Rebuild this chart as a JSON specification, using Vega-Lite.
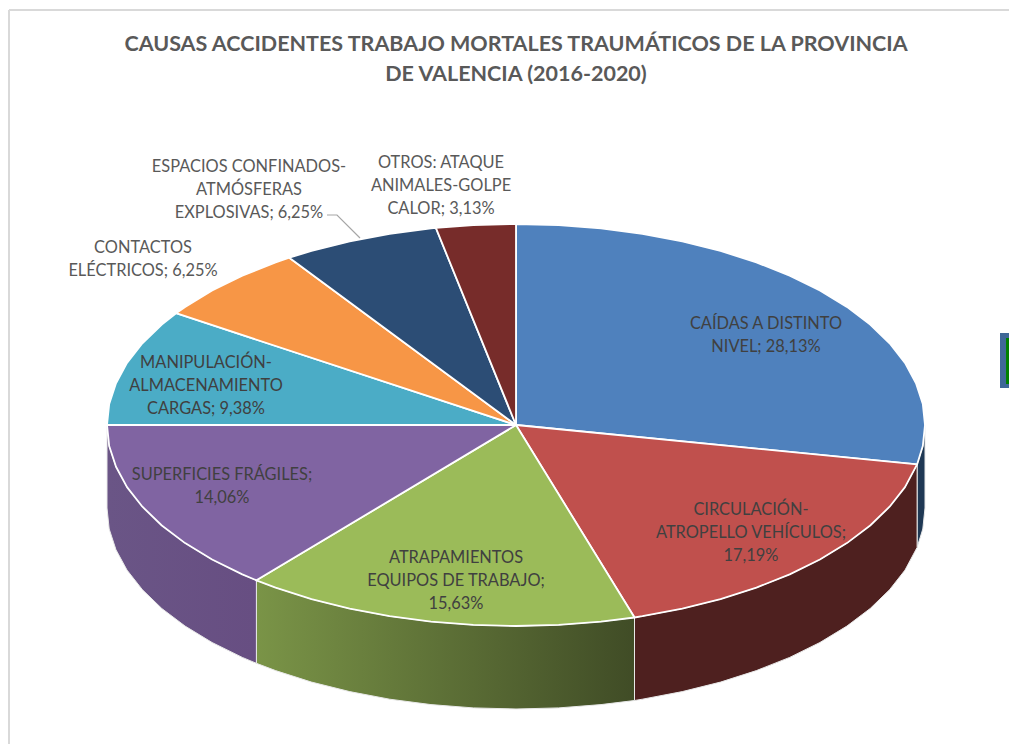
{
"$schema":"https://vega.github.io/schema/vega-lite/v6.json",
"width":1009,"height":744,"padding":0,"autosize":"none","background":"white",
"view":{"stroke":null},
"title":{"text":["CAUSAS ACCIDENTES TRABAJO MORTALES TRAUMÁTICOS DE LA PROVINCIA","DE VALENCIA (2016-2020)"],"font":"Lato","fontSize":21.5,"fontWeight":"bold","color":"#595959","lineHeight":30,"anchor":"middle","baseline":"top","offset":0,"dx":11.5,"dy":85.5},
"datasets":{
"caras":[
{"s":"Caídas","i":0,"x":516,"y":424},{"s":"Caídas","i":1,"x":516,"y":223},{"s":"Caídas","i":2,"x":558.7,"y":224.1},{"s":"Caídas","i":3,"x":601,"y":227.4},{"s":"Caídas","i":4,"x":642.4,"y":232.8},{"s":"Caídas","i":5,"x":682.3,"y":240.4},{"s":"Caídas","i":6,"x":720.5,"y":249.9},{"s":"Caídas","i":7,"x":756.4,"y":261.4},{"s":"Caídas","i":8,"x":789.7,"y":274.6},{"s":"Caídas","i":9,"x":819.9,"y":289.5},{"s":"Caídas","i":10,"x":846.9,"y":305.9},{"s":"Caídas","i":11,"x":870.2,"y":323.5},{"s":"Caídas","i":12,"x":889.6,"y":342.3},{"s":"Caídas","i":13,"x":905,"y":361.9},{"s":"Caídas","i":14,"x":916,"y":382.2},{"s":"Caídas","i":15,"x":922.8,"y":403},{"s":"Caídas","i":16,"x":925,"y":424},{"s":"Caídas","i":17,"x":922.8,"y":445},{"s":"Caídas","i":18,"x":917.1,"y":463.4},{"s":"Caídas","i":19,"x":516,"y":424},
{"s":"Circulación","i":0,"x":516,"y":424},{"s":"Circulación","i":1,"x":917.1,"y":463.4},{"s":"Circulación","i":2,"x":905,"y":486.1},{"s":"Circulación","i":3,"x":889.6,"y":505.7},{"s":"Circulación","i":4,"x":870.2,"y":524.5},{"s":"Circulación","i":5,"x":846.9,"y":542.1},{"s":"Circulación","i":6,"x":819.9,"y":558.5},{"s":"Circulación","i":7,"x":789.7,"y":573.4},{"s":"Circulación","i":8,"x":756.4,"y":586.6},{"s":"Circulación","i":9,"x":720.5,"y":598.1},{"s":"Circulación","i":10,"x":682.3,"y":607.6},{"s":"Circulación","i":11,"x":642.4,"y":615.2},{"s":"Circulación","i":12,"x":634.5,"y":616.5},{"s":"Circulación","i":13,"x":516,"y":424},
{"s":"Atrapamientos","i":0,"x":516,"y":424},{"s":"Atrapamientos","i":1,"x":634.5,"y":616.5},{"s":"Atrapamientos","i":2,"x":601,"y":620.6},{"s":"Atrapamientos","i":3,"x":558.7,"y":623.9},{"s":"Atrapamientos","i":4,"x":516,"y":625},{"s":"Atrapamientos","i":5,"x":473.3,"y":623.9},{"s":"Atrapamientos","i":6,"x":431,"y":620.6},{"s":"Atrapamientos","i":7,"x":389.6,"y":615.2},{"s":"Atrapamientos","i":8,"x":349.7,"y":607.6},{"s":"Atrapamientos","i":9,"x":311.5,"y":598.1},{"s":"Atrapamientos","i":10,"x":275.6,"y":586.6},{"s":"Atrapamientos","i":11,"x":256.4,"y":579.3},{"s":"Atrapamientos","i":12,"x":516,"y":424},
{"s":"Superficies","i":0,"x":516,"y":424},{"s":"Superficies","i":1,"x":256.4,"y":579.3},{"s":"Superficies","i":2,"x":242.3,"y":573.4},{"s":"Superficies","i":3,"x":212.1,"y":558.5},{"s":"Superficies","i":4,"x":185.1,"y":542.1},{"s":"Superficies","i":5,"x":161.8,"y":524.5},{"s":"Superficies","i":6,"x":142.4,"y":505.7},{"s":"Superficies","i":7,"x":127,"y":486.1},{"s":"Superficies","i":8,"x":116,"y":465.8},{"s":"Superficies","i":9,"x":109.2,"y":445},{"s":"Superficies","i":10,"x":107,"y":424},{"s":"Superficies","i":11,"x":516,"y":424},
{"s":"Manipulación","i":0,"x":516,"y":424},{"s":"Manipulación","i":1,"x":107,"y":424},{"s":"Manipulación","i":2,"x":109.2,"y":403},{"s":"Manipulación","i":3,"x":116,"y":382.2},{"s":"Manipulación","i":4,"x":127,"y":361.9},{"s":"Manipulación","i":5,"x":142.4,"y":342.3},{"s":"Manipulación","i":6,"x":161.8,"y":323.5},{"s":"Manipulación","i":7,"x":176.1,"y":312.2},{"s":"Manipulación","i":8,"x":516,"y":424},
{"s":"Contactos","i":0,"x":516,"y":424},{"s":"Contactos","i":1,"x":176.1,"y":312.2},{"s":"Contactos","i":2,"x":185.1,"y":305.9},{"s":"Contactos","i":3,"x":212.1,"y":289.5},{"s":"Contactos","i":4,"x":242.3,"y":274.6},{"s":"Contactos","i":5,"x":275.6,"y":261.4},{"s":"Contactos","i":6,"x":289.3,"y":256.7},{"s":"Contactos","i":7,"x":516,"y":424},
{"s":"Espacios","i":0,"x":516,"y":424},{"s":"Espacios","i":1,"x":289.3,"y":256.7},{"s":"Espacios","i":2,"x":311.5,"y":249.9},{"s":"Espacios","i":3,"x":349.7,"y":240.4},{"s":"Espacios","i":4,"x":389.6,"y":232.8},{"s":"Espacios","i":5,"x":431,"y":227.4},{"s":"Espacios","i":6,"x":435.9,"y":226.9},{"s":"Espacios","i":7,"x":516,"y":424},
{"s":"Otros","i":0,"x":516,"y":424},{"s":"Otros","i":1,"x":435.9,"y":226.9},{"s":"Otros","i":2,"x":473.3,"y":224.1},{"s":"Otros","i":3,"x":516,"y":223},{"s":"Otros","i":4,"x":516,"y":424}
],
"paredes":[
{"s":"Caídas","x":925,"y":424,"y2":507},{"s":"Caídas","x":922.8,"y":445,"y2":528},{"s":"Caídas","x":917.1,"y":463.4,"y2":546.4},
{"s":"Circulación","x":917.1,"y":463.4,"y2":546.4},{"s":"Circulación","x":905,"y":486.1,"y2":569.1},{"s":"Circulación","x":889.6,"y":505.7,"y2":588.7},{"s":"Circulación","x":870.2,"y":524.5,"y2":607.5},{"s":"Circulación","x":846.9,"y":542.1,"y2":625.1},{"s":"Circulación","x":819.9,"y":558.5,"y2":641.5},{"s":"Circulación","x":789.7,"y":573.4,"y2":656.4},{"s":"Circulación","x":756.4,"y":586.6,"y2":669.6},{"s":"Circulación","x":720.5,"y":598.1,"y2":681.1},{"s":"Circulación","x":682.3,"y":607.6,"y2":690.6},{"s":"Circulación","x":642.4,"y":615.2,"y2":698.2},{"s":"Circulación","x":634.5,"y":616.5,"y2":699.5},
{"s":"Atrapamientos","x":634.5,"y":616.5,"y2":699.5},{"s":"Atrapamientos","x":601,"y":620.6,"y2":703.6},{"s":"Atrapamientos","x":558.7,"y":623.9,"y2":706.9},{"s":"Atrapamientos","x":516,"y":625,"y2":708},{"s":"Atrapamientos","x":473.3,"y":623.9,"y2":706.9},{"s":"Atrapamientos","x":431,"y":620.6,"y2":703.6},{"s":"Atrapamientos","x":389.6,"y":615.2,"y2":698.2},{"s":"Atrapamientos","x":349.7,"y":607.6,"y2":690.6},{"s":"Atrapamientos","x":311.5,"y":598.1,"y2":681.1},{"s":"Atrapamientos","x":275.6,"y":586.6,"y2":669.6},{"s":"Atrapamientos","x":256.4,"y":579.3,"y2":662.3},
{"s":"Superficies","x":256.4,"y":579.3,"y2":662.3},{"s":"Superficies","x":242.3,"y":573.4,"y2":656.4},{"s":"Superficies","x":212.1,"y":558.5,"y2":641.5},{"s":"Superficies","x":185.1,"y":542.1,"y2":625.1},{"s":"Superficies","x":161.8,"y":524.5,"y2":607.5},{"s":"Superficies","x":142.4,"y":505.7,"y2":588.7},{"s":"Superficies","x":127,"y":486.1,"y2":569.1},{"s":"Superficies","x":116,"y":465.8,"y2":548.8},{"s":"Superficies","x":109.2,"y":445,"y2":528},{"s":"Superficies","x":107,"y":424,"y2":507}
],
"etiquetas":[
{"t":"CAÍDAS A DISTINTO\nNIVEL; 28,13%","z":"dentro","x":766,"y":323},
{"t":"CIRCULACIÓN-\nATROPELLO VEHÍCULOS;\n17,19%","z":"dentro","x":751,"y":509},
{"t":"ATRAPAMIENTOS\nEQUIPOS DE TRABAJO;\n15,63%","z":"dentro","x":456,"y":557},
{"t":"SUPERFICIES FRÁGILES;\n14,06%","z":"dentro","x":222,"y":474},
{"t":"MANIPULACIÓN-\nALMACENAMIENTO\nCARGAS; 9,38%","z":"dentro","x":206,"y":362},
{"t":"CONTACTOS\nELÉCTRICOS; 6,25%","z":"fuera","x":143,"y":247},
{"t":"ESPACIOS CONFINADOS-\nATMÓSFERAS\nEXPLOSIVAS; 6,25%","z":"fuera","x":249,"y":166},
{"t":"OTROS: ATAQUE\nANIMALES-GOLPE\nCALOR; 3,13%","z":"fuera","x":441,"y":162}
],
"guia":[{"i":0,"x":327,"y":214},{"i":1,"x":337,"y":214},{"i":2,"x":360,"y":237}],
"marco":[{"x":9,"y":9,"x2":1009,"y2":9},{"x":9,"y":9,"x2":9,"y2":744}],
"caja":[{"p":"exterior","x":1000,"x2":1009,"y":332,"y2":387},{"p":"interior","x":1006,"x2":1009,"y":337,"y2":383}]
},
"encoding":{
"x":{"field":"x","type":"quantitative","scale":{"domain":[0,1009],"nice":false,"zero":false},"axis":null},
"y":{"field":"y","type":"quantitative","scale":{"domain":[743,-1],"nice":false,"zero":false},"axis":null}
},
"resolve":{"scale":{"fill":"independent"}},
"layer":[
{"data":{"name":"marco"},"mark":{"type":"rule","color":"#d9d9d9","strokeWidth":2},"encoding":{"x2":{"field":"x2"},"y2":{"field":"y2"}}},
{"data":{"name":"caja"},"mark":{"type":"rect"},"encoding":{"x2":{"field":"x2"},"y2":{"field":"y2"},"fill":{"field":"p","type":"nominal","scale":{"domain":["exterior","interior"],"range":["#3f6797","#008000"]},"legend":null}}},
{"data":{"name":"paredes"},"transform":[{"filter":"datum.s==='Caídas'"}],"mark":{"type":"area","fill":"#1f3854","stroke":"#e8e8e8","strokeWidth":1},"encoding":{"y2":{"field":"y2"}}},
{"data":{"name":"paredes"},"transform":[{"filter":"datum.s==='Circulación'"}],"mark":{"type":"area","fill":"#4e201f","stroke":"#e8e8e8","strokeWidth":1},"encoding":{"y2":{"field":"y2"}}},
{"data":{"name":"paredes"},"transform":[{"filter":"datum.s==='Atrapamientos'"}],"mark":{"type":"area","stroke":"#e8e8e8","strokeWidth":1,"fill":{"gradient":"linear","x1":0,"y1":0,"x2":1,"y2":0,"stops":[{"offset":0,"color":"#7a9447"},{"offset":1,"color":"#404c26"}]}},"encoding":{"y2":{"field":"y2"}}},
{"data":{"name":"paredes"},"transform":[{"filter":"datum.s==='Superficies'"}],"mark":{"type":"area","stroke":"#e8e8e8","strokeWidth":1,"fill":{"gradient":"linear","x1":0,"y1":0,"x2":1,"y2":0,"stops":[{"offset":0,"color":"#6a5586"},{"offset":1,"color":"#674e82"}]}},"encoding":{"y2":{"field":"y2"}}},
{"data":{"name":"caras"},"mark":{"type":"line","stroke":"#ffffff","strokeWidth":1.8,"strokeJoin":"round"},"encoding":{"order":{"field":"i","type":"quantitative"},"fill":{"field":"s","type":"nominal","scale":{"domain":["Caídas","Circulación","Atrapamientos","Superficies","Manipulación","Contactos","Espacios","Otros"],"range":["#4f81bd","#c0504d","#9bbb59","#8064a2","#4bacc6","#f79646","#2c4d75","#772c2a"]},"legend":null}}},
{"data":{"name":"guia"},"mark":{"type":"line","color":"#a6a6a6","strokeWidth":1.2},"encoding":{"order":{"field":"i","type":"quantitative"}}},
{"data":{"name":"etiquetas"},"mark":{"type":"text","font":"Lato","fontSize":16.4,"lineHeight":23,"lineBreak":"\n","align":"center","baseline":"middle"},"encoding":{"text":{"field":"t"},"color":{"field":"z","type":"nominal","scale":{"domain":["dentro","fuera"],"range":["#404040","#595959"]},"legend":null}}}
]
}
